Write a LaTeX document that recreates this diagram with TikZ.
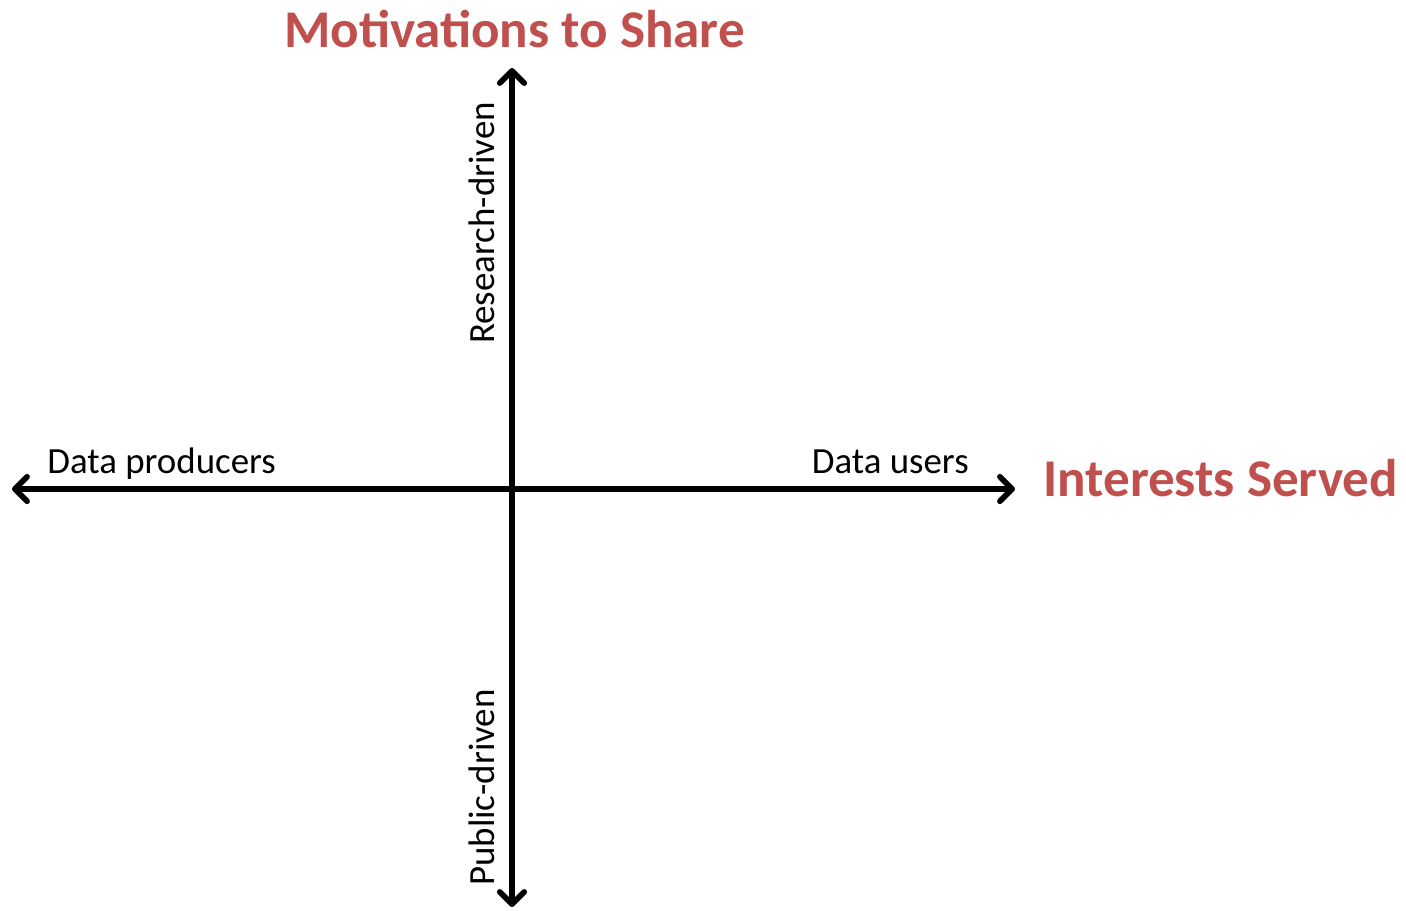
\documentclass[tikz,border=0pt]{standalone}
\usepackage{fontspec}
\setmainfont{Carlito}
\usetikzlibrary{arrows.meta}

\definecolor{titlered}{HTML}{C0504D}

\tikzset{
  axis/.style={line width=3.2pt, {Straight Barb[length=7pt, width=14pt, line cap=round, line join=round]}-{Straight Barb[length=7pt, width=14pt, line cap=round, line join=round]}},
  heading/.style={font=\fontsize{30.2}{34}\selectfont\bfseries, text=titlered, inner sep=0pt},
  pole/.style={font=\fontsize{21}{24}\selectfont, inner sep=0pt}
}

\begin{document}
\begin{tikzpicture}
\useasboundingbox (0,0) rectangle (28.12,-18.2);
\coordinate (L) at (0.24,-9.78);
\coordinate (R) at (20.3,-9.78);
\coordinate (T) at (10.24,-1.36);
\coordinate (B) at (10.24,-18.14);
\draw[axis] (L) -- (R);
\draw[axis] (B) -- (T);
\node[heading, anchor=base]      (motiv)    at (10.29,-0.94) {Motivations to Share};
\node[heading, anchor=base west] (interest) at (20.86,-9.92) {Interests Served};
\node[pole, anchor=base west]    (prod)     at (0.94,-9.46)  {Data producers};
\node[pole, anchor=base east]    (users)    at (19.38,-9.46) {Data users};
\node[pole, anchor=base, rotate=90] (research) at (9.88,-4.46)  {Research-driven};
\node[pole, anchor=base, rotate=90] (public)   at (9.88,-15.75) {Public-driven};
\end{tikzpicture}
\end{document}
